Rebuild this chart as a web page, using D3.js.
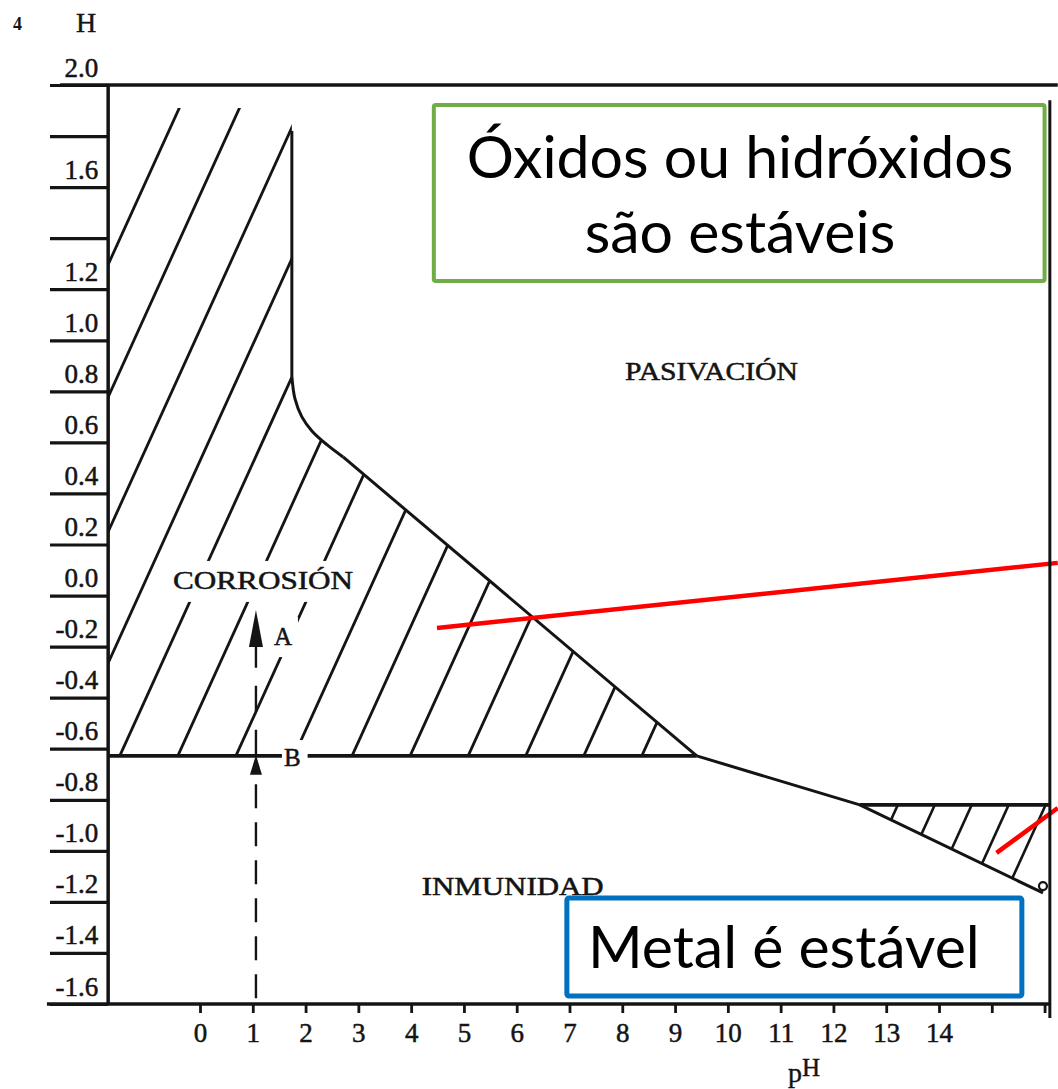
<!DOCTYPE html>
<html><head><meta charset="utf-8">
<script src="https://cdn.jsdelivr.net/npm/d3@7"></script>
<style>body{margin:0;background:#fff}svg{display:block}</style>
</head><body>
<svg id="c" width="1058" height="1089"></svg>
<script>
// ---------- data (pH / potential E in volts) ----------
const phTicks      = [0,1,2,3,4,5,6,7,8,9,10,11,12,13,14,15,16];
const phTickLabels = ["0","1","2","3","4","5","6","7","8","9","10","11","12","13","14","",""];
const eTicks       = [2.0,1.8,1.6,1.4,1.2,1.0,0.8,0.6,0.4,0.2,0.0,-0.2,-0.4,-0.6,-0.8,-1.0,-1.2,-1.4,-1.6];
const eTickLabels  = ["2.0","","1.6","","1.2","1.0","0.8","0.6","0.4","0.2","0.0","-0.2","-0.4","-0.6","-0.8","-1.0","-1.2","-1.4","-1.6"];

const phMin = -1.74, phMax = 16.1;           // plot frame
const verticalBoundary = [[1.74,1.82],[1.74,0.86]];
const curvedBoundary   = [[1.74,0.86],[1.80,0.77],[1.93,0.70],[2.12,0.645],[2.41,0.59],[2.71,0.543]];
const slopeBoundary    = [[2.71,0.543],[9.41,-0.628]];
const lineB            = [[-1.74,-0.628],[9.41,-0.628]];
const lowerBoundary    = [[9.41,-0.628],[12.5,-0.82],[15.97,-1.165]];
const triangleTop      = [[12.5,-0.82],[16.1,-0.82]];
const hatchTopE        = 1.91;
// pH where each hatch line crosses E=-0.628 (main corrosion zone)
const hatchMainPH = [-5.97,-4.83,-3.67,-2.54,-1.52,-0.42,0.68,1.78,2.88,3.98,5.08,6.17,7.27,8.37];
// pH where each hatch line crosses E=-0.82 (alkaline corrosion zone)
const hatchTriPH  = [13.22,13.92,14.62,15.32,16.02];
const hatchSlope  = 0.455; // V per pH unit
const redLines = [
  [[4.49,-0.127],[16.25,0.128]],
  [[15.09,-1.008],[16.25,-0.832]]
];
const arrowPH = 1.06;

// ---------- scales ----------
const svg = d3.select("#c");
const x = d3.scaleLinear().domain([0,14]).range([200,939]);
const y = d3.scaleLinear().domain([-1.6,2.0]).range([1004,85]);
const line = d3.line().x(d=>x(d[0])).y(d=>y(d[1]));
const INK = "#141414";
const SERIF = "'Liberation Serif','Times New Roman',serif";

svg.append("rect").attr("width",1058).attr("height",1089).attr("fill","#fff");

// ---------- clip regions ----------
const curveGen = d3.line().x(d=>x(d[0])).y(d=>y(d[1])).curve(d3.curveCatmullRom.alpha(0.5));
const defs = svg.append("defs");
defs.append("clipPath").attr("id","clipMain").append("path")
  .attr("d", line([[phMin,hatchTopE],[1.74,hatchTopE]]) + curveGen(curvedBoundary).replace(/^M/,"L")
     + line(slopeBoundary.concat([[phMin,-0.628]])).replace(/^M/,"L") + "Z");
const triRegion = [[12.5,-0.82],[phMax,-0.82],[15.97,-1.165]];
defs.append("clipPath").attr("id","clipTri").append("path")
  .attr("d", line(triRegion)+"Z");

// ---------- hatching ----------
const hMain = svg.append("g").attr("clip-path","url(#clipMain)")
  .attr("stroke",INK).attr("stroke-width",2.8).attr("fill","none");
hMain.selectAll("path").data(hatchMainPH).join("path")
  .attr("d", p => line([[p,-0.628],[p+(2.2+0.628)/hatchSlope,2.2]]));
const hTri = svg.append("g").attr("clip-path","url(#clipTri)")
  .attr("stroke",INK).attr("stroke-width",2.6).attr("fill","none");
hTri.selectAll("path").data(hatchTriPH).join("path")
  .attr("d", p => line([[p-(0.6)/hatchSlope,-1.42],[p+0.2/hatchSlope,-0.62]]));

// ---------- boundaries ----------
const bnd = svg.append("g").attr("fill","none").attr("stroke",INK).attr("stroke-linejoin","round");
bnd.append("path").attr("d",line(verticalBoundary)).attr("stroke-width",3);
bnd.append("path").attr("d",curveGen(curvedBoundary)).attr("stroke-width",3);
bnd.append("path").attr("d",line(slopeBoundary)).attr("stroke-width",3);
bnd.append("path").attr("d",line(lineB)).attr("stroke-width",3.6);
bnd.append("path").attr("d",line(lowerBoundary)).attr("stroke-width",3);
bnd.append("path").attr("d",line(triangleTop)).attr("stroke-width",3.6);
bnd.append("circle").attr("cx",x(15.97)).attr("cy",y(-1.138)).attr("r",4).attr("stroke-width",2.2);

// ---------- region / point labels with knock-out background ----------
const labels = [
  {text:"CORROSIÓN", ph:-0.51, e:0.026, size:25, len:180, pad:[7,10,7,8]},
  {text:"A", ph:1.40, e:-0.194, size:25, pad:[5,10,6,7]},
  {text:"B", ph:1.59, e:-0.668, size:25, pad:[2,8,7,6]},
  {text:"PASIVACIÓN", ph:8.05, e:0.844, size:25, len:173},
  {text:"INMUNIDAD", ph:4.20, e:-1.173, size:25, len:182}
];
const lg = svg.append("g");
labels.forEach(l=>{
  const bgr = lg.append("rect").attr("fill","#fff");
  const t = lg.append("text").attr("x",x(l.ph)).attr("y",y(l.e))
    .attr("font-family",SERIF).attr("font-size",l.size).attr("fill",INK)
    .attr("stroke",INK).attr("stroke-width",0.5).text(l.text);
  if(l.len) t.attr("textLength",l.len).attr("lengthAdjust","spacingAndGlyphs");
  if(l.pad){
    const b = t.node().getBBox();
    bgr.attr("x",b.x-l.pad[0]).attr("y",b.y-l.pad[1]+4).attr("width",b.width+l.pad[0]+l.pad[2])
       .attr("height",b.height+l.pad[1]+l.pad[3]-4);
  } else bgr.remove();
});

// ---------- dashed arrows A / B ----------
const ax = x(arrowPH);
const ar = svg.append("g");
ar.append("line").attr("x1",ax).attr("x2",ax).attr("y1",y(-1.577)).attr("y2",y(-0.703))
  .attr("stroke",INK).attr("stroke-width",2.4).attr("stroke-dasharray","24,14");
ar.append("line").attr("x1",ax).attr("x2",ax).attr("y1",y(-0.628)).attr("y2",y(-0.201))
  .attr("stroke",INK).attr("stroke-width",2.4).attr("stroke-dasharray","26,18");
const tri = (tipY, h, w) => `M${ax},${tipY}L${ax-w},${tipY+h}L${ax+w},${tipY+h}Z`;
ar.append("path").attr("d",tri(y(-0.628)-1,20,6)).attr("fill",INK);
ar.append("path").attr("d",tri(y(-0.057),37,7)).attr("fill",INK);

// ---------- red annotation lines ----------
svg.append("g").selectAll("path").data(redLines).join("path")
  .attr("d",d=>line(d)).attr("stroke","#ff0000").attr("stroke-width",4.5).attr("fill","none");

// ---------- text boxes ----------
const boxes = [
  {ph0:4.43, ph1:16.0, e0:1.922, e1:1.232, color:"#70ad47", sw:4,
   lines:[{t:"Óxidos ou hidróxidos", e:1.636},{t:"são estáveis", e:1.342}], cx:10.23},
  {ph0:6.95, ph1:15.57, e0:-1.185, e1:-1.569, color:"#0070c0", sw:5,
   lines:[{t:"Metal é estável", e:-1.459}], cx:11.06}
];
boxes.forEach(b=>{
  svg.append("rect").attr("x",x(b.ph0)).attr("y",y(b.e0))
    .attr("width",x(b.ph1)-x(b.ph0)).attr("height",y(b.e1)-y(b.e0))
    .attr("fill","#fff").attr("stroke",b.color).attr("stroke-width",b.sw).attr("rx",2);
  b.lines.forEach(l=>{
    svg.append("text").attr("x",x(b.cx)).attr("y",y(l.e)).attr("text-anchor","middle")
      .attr("font-family","Lato,'Open Sans',sans-serif").attr("font-size",59).attr("fill","#000").text(l.t);
  });
});

// ---------- frame and axes ----------
const fr = svg.append("g").attr("stroke",INK).attr("fill","none");
fr.append("path").attr("d",line([[-2.65,2.0],[16.25,2.0]])).attr("stroke-width",3.5);
fr.append("path").attr("d",line([[phMin,2.0],[phMin,-1.6]])).attr("stroke-width",3.5);
fr.append("path").attr("d",line([[-2.9,-1.6],[phMax,-1.6]])).attr("stroke-width",3.5);
fr.append("path").attr("d",line([[phMax,1.94],[phMax,-1.655]])).attr("stroke-width",3);

const yAxis = d3.axisLeft(y).tickValues(eTicks).tickSize(x(phMin)-50).tickFormat((d,i)=>eTickLabels[i]);
const gy = svg.append("g").attr("transform",`translate(${x(phMin)},0)`).call(yAxis)
  .attr("font-family",SERIF).attr("font-size",27);
gy.select(".domain").remove();
gy.selectAll(".tick line").attr("stroke",INK).attr("stroke-width",3.2);
gy.selectAll(".tick text").attr("x",-10).attr("dy",-9).attr("fill",INK).attr("stroke",INK).attr("stroke-width",0.5);

const xAxis = d3.axisBottom(x).tickValues(phTicks).tickSize(9).tickFormat((d,i)=>phTickLabels[i]);
const gx = svg.append("g").attr("transform",`translate(0,${y(-1.6)})`).call(xAxis)
  .attr("font-family",SERIF).attr("font-size",27);
gx.select(".domain").remove();
gx.selectAll(".tick line").attr("stroke",INK).attr("stroke-width",2.8);
gx.selectAll(".tick text").attr("y",38).attr("dy",0).attr("fill",INK).attr("stroke",INK).attr("stroke-width",0.5);

const pl = svg.append("text").attr("x",788).attr("y",1082)
  .attr("font-family",SERIF).attr("font-size",28).attr("fill",INK).attr("stroke",INK).attr("stroke-width",0.4);
pl.append("tspan").text("p");
pl.append("tspan").attr("dy",-6).attr("font-size",25).text("H");

svg.append("text").attr("x",76).attr("y",32).attr("font-family",SERIF).attr("font-size",28).attr("fill",INK).attr("stroke",INK).attr("stroke-width",0.4).text("H");
svg.append("text").attr("x",13).attr("y",30).attr("font-family",SERIF).attr("font-size",18).attr("font-weight","bold").attr("fill",INK).text("4");
</script>
</body></html>
